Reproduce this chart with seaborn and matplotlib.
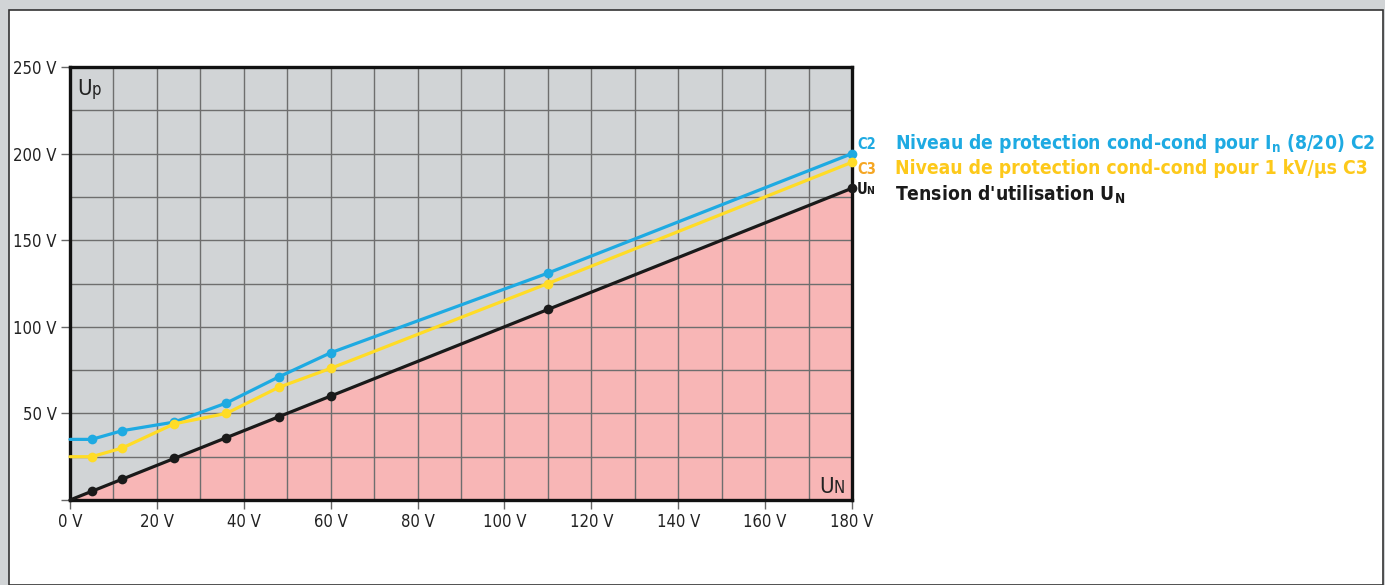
import numpy as np
import pandas as pd
import seaborn as sns
import matplotlib.pyplot as plt
from matplotlib import font_manager
from matplotlib.patches import Rectangle

# values
un_x = [0, 5, 12, 24, 36, 48, 60, 110, 180]
un_y = [0, 5, 12, 24, 36, 48, 60, 110, 180]
c2_y = [35, 35, 40, 45, 56, 71, 85, 131, 200]
c3_y = [25, 25, 30, 44, 50, 65, 76, 125, 195]

x_ticks = [0, 20, 40, 60, 80, 100, 120, 140, 160, 180]
x_labels = [f"{v} V" for v in x_ticks]
y_ticks = [0, 50, 100, 150, 200, 250]
y_labels = [""] + [f"{v} V" for v in y_ticks[1:]]

blue = '#1EAAE2'
yellow = '#FFDC26'
black = '#1A1A1A'
pink = '#F8B6B6'
panel_grey = '#D1D4D6'

sns.set_style('white')
# a narrow face if one is around, otherwise plain DejaVu Sans
names = {f.name for f in font_manager.fontManager.ttflist}
condensed = any(f.name == 'DejaVu Sans' and f.stretch == 'condensed'
                for f in font_manager.fontManager.ttflist)
if 'Liberation Sans Narrow' in names:
    plt.rcParams['font.family'] = ['Liberation Sans Narrow', 'DejaVu Sans']
    narrow = True
elif condensed:
    plt.rcParams['font.family'] = ['DejaVu Sans']
    plt.rcParams['font.stretch'] = 'condensed'
    narrow = True
else:
    plt.rcParams['font.family'] = ['DejaVu Sans']
    narrow = False

tick_fs = 12 if narrow else 10
leg_fs = 13.9 if narrow else 12

W, H = 1385, 585
fig = plt.figure(figsize=(W / 100, H / 100), dpi=100, facecolor=panel_grey)

def px(x, y):
    return x / W, 1 - y / H

# white sheet behind everything
fig.patches.append(Rectangle(px(9, 585), (1383 - 9) / W, (585 - 10) / H,
                             transform=fig.transFigure, facecolor='white',
                             edgecolor='#333333', lw=1.2, zorder=-5))

ax = fig.add_axes([70 / W, 1 - 500 / H, (852 - 70) / W, (500 - 67) / H])
ax.set_zorder(1)
ax.set_facecolor(panel_grey)

df = pd.DataFrame({'un': un_x, 'y_un': un_y, 'c2': c2_y, 'c3': c3_y})

ax.fill_between(df['un'], 0, df['y_un'], color=pink, lw=0, zorder=1)

marks = list(range(1, len(un_x)))
for col, colr in [('c2', blue), ('c3', yellow), ('y_un', black)]:
    sns.lineplot(data=df, x='un', y=col, ax=ax, color=colr, lw=2.3,
                 marker='o', markersize=7, markeredgewidth=0,
                 markevery=marks, zorder=3, clip_on=False)

ax.set_xlim(0, 180)
ax.set_ylim(0, 250)
ax.set_xticks(x_ticks)
ax.set_xticklabels(x_labels)
ax.set_yticks(y_ticks)
ax.set_yticklabels(y_labels)
ax.set_xticks(np.arange(0, 181, 10), minor=True)
ax.set_yticks(np.arange(0, 251, 25), minor=True)
ax.grid(which='both', color='#6E6E6E', lw=1.0)
ax.set_axisbelow('line')
ax.tick_params(which='major', length=6.5, width=1, color='#666666',
               labelsize=tick_fs, labelcolor='#222222', pad=3, left=True, bottom=True)
ax.tick_params(which='minor', length=0)
ax.set_xlabel('')
ax.set_ylabel('')
for s in ax.spines.values():
    s.set_color('#111111')
    s.set_linewidth(2.4)
    s.set_visible(True)

# U_p and U_N inside the axes
txt = dict(textcoords='offset points', xycoords='axes fraction', va='baseline',
           ha='left', color='#222222')
ax.annotate('U', xy=(0, 1), xytext=(5, -20), fontsize=16, **txt)
ax.annotate('p', xy=(0, 1), xytext=(15.5, -20), fontsize=12, **txt)
ax.annotate('U', xy=(1, 0), xytext=(-23.5, 5), fontsize=16, **txt)
ax.annotate('N', xy=(1, 0), xytext=(-13, 5), fontsize=12, **txt)

# legend on the right
fig.text(*px(857, 149), 'C2', color=blue, fontsize=10.5, fontweight='bold', va='baseline')
fig.text(*px(895, 149), r'Niveau de protection cond-cond pour I$_\mathregular{n}$ (8/20) C2',
         color=blue, fontsize=leg_fs, fontweight='bold', va='baseline')
fig.text(*px(857, 174), 'C3', color='#F5A623', fontsize=10.5, fontweight='bold', va='baseline')
fig.text(*px(895, 174), 'Niveau de protection cond-cond pour 1 kV/µs C3',
         color='#FDC91A', fontsize=leg_fs, fontweight='bold', va='baseline')
fig.text(*px(857, 194), 'U', color=black, fontsize=10.5, fontweight='bold', va='baseline')
fig.text(*px(866, 194), 'N', color=black, fontsize=7.5, fontweight='bold', va='baseline')
fig.text(*px(895, 201), r"Tension d'utilisation U$_\mathregular{N}$",
         color=black, fontsize=leg_fs, fontweight='bold', va='baseline')

fig.savefig('out.png', dpi=100, facecolor=panel_grey)
